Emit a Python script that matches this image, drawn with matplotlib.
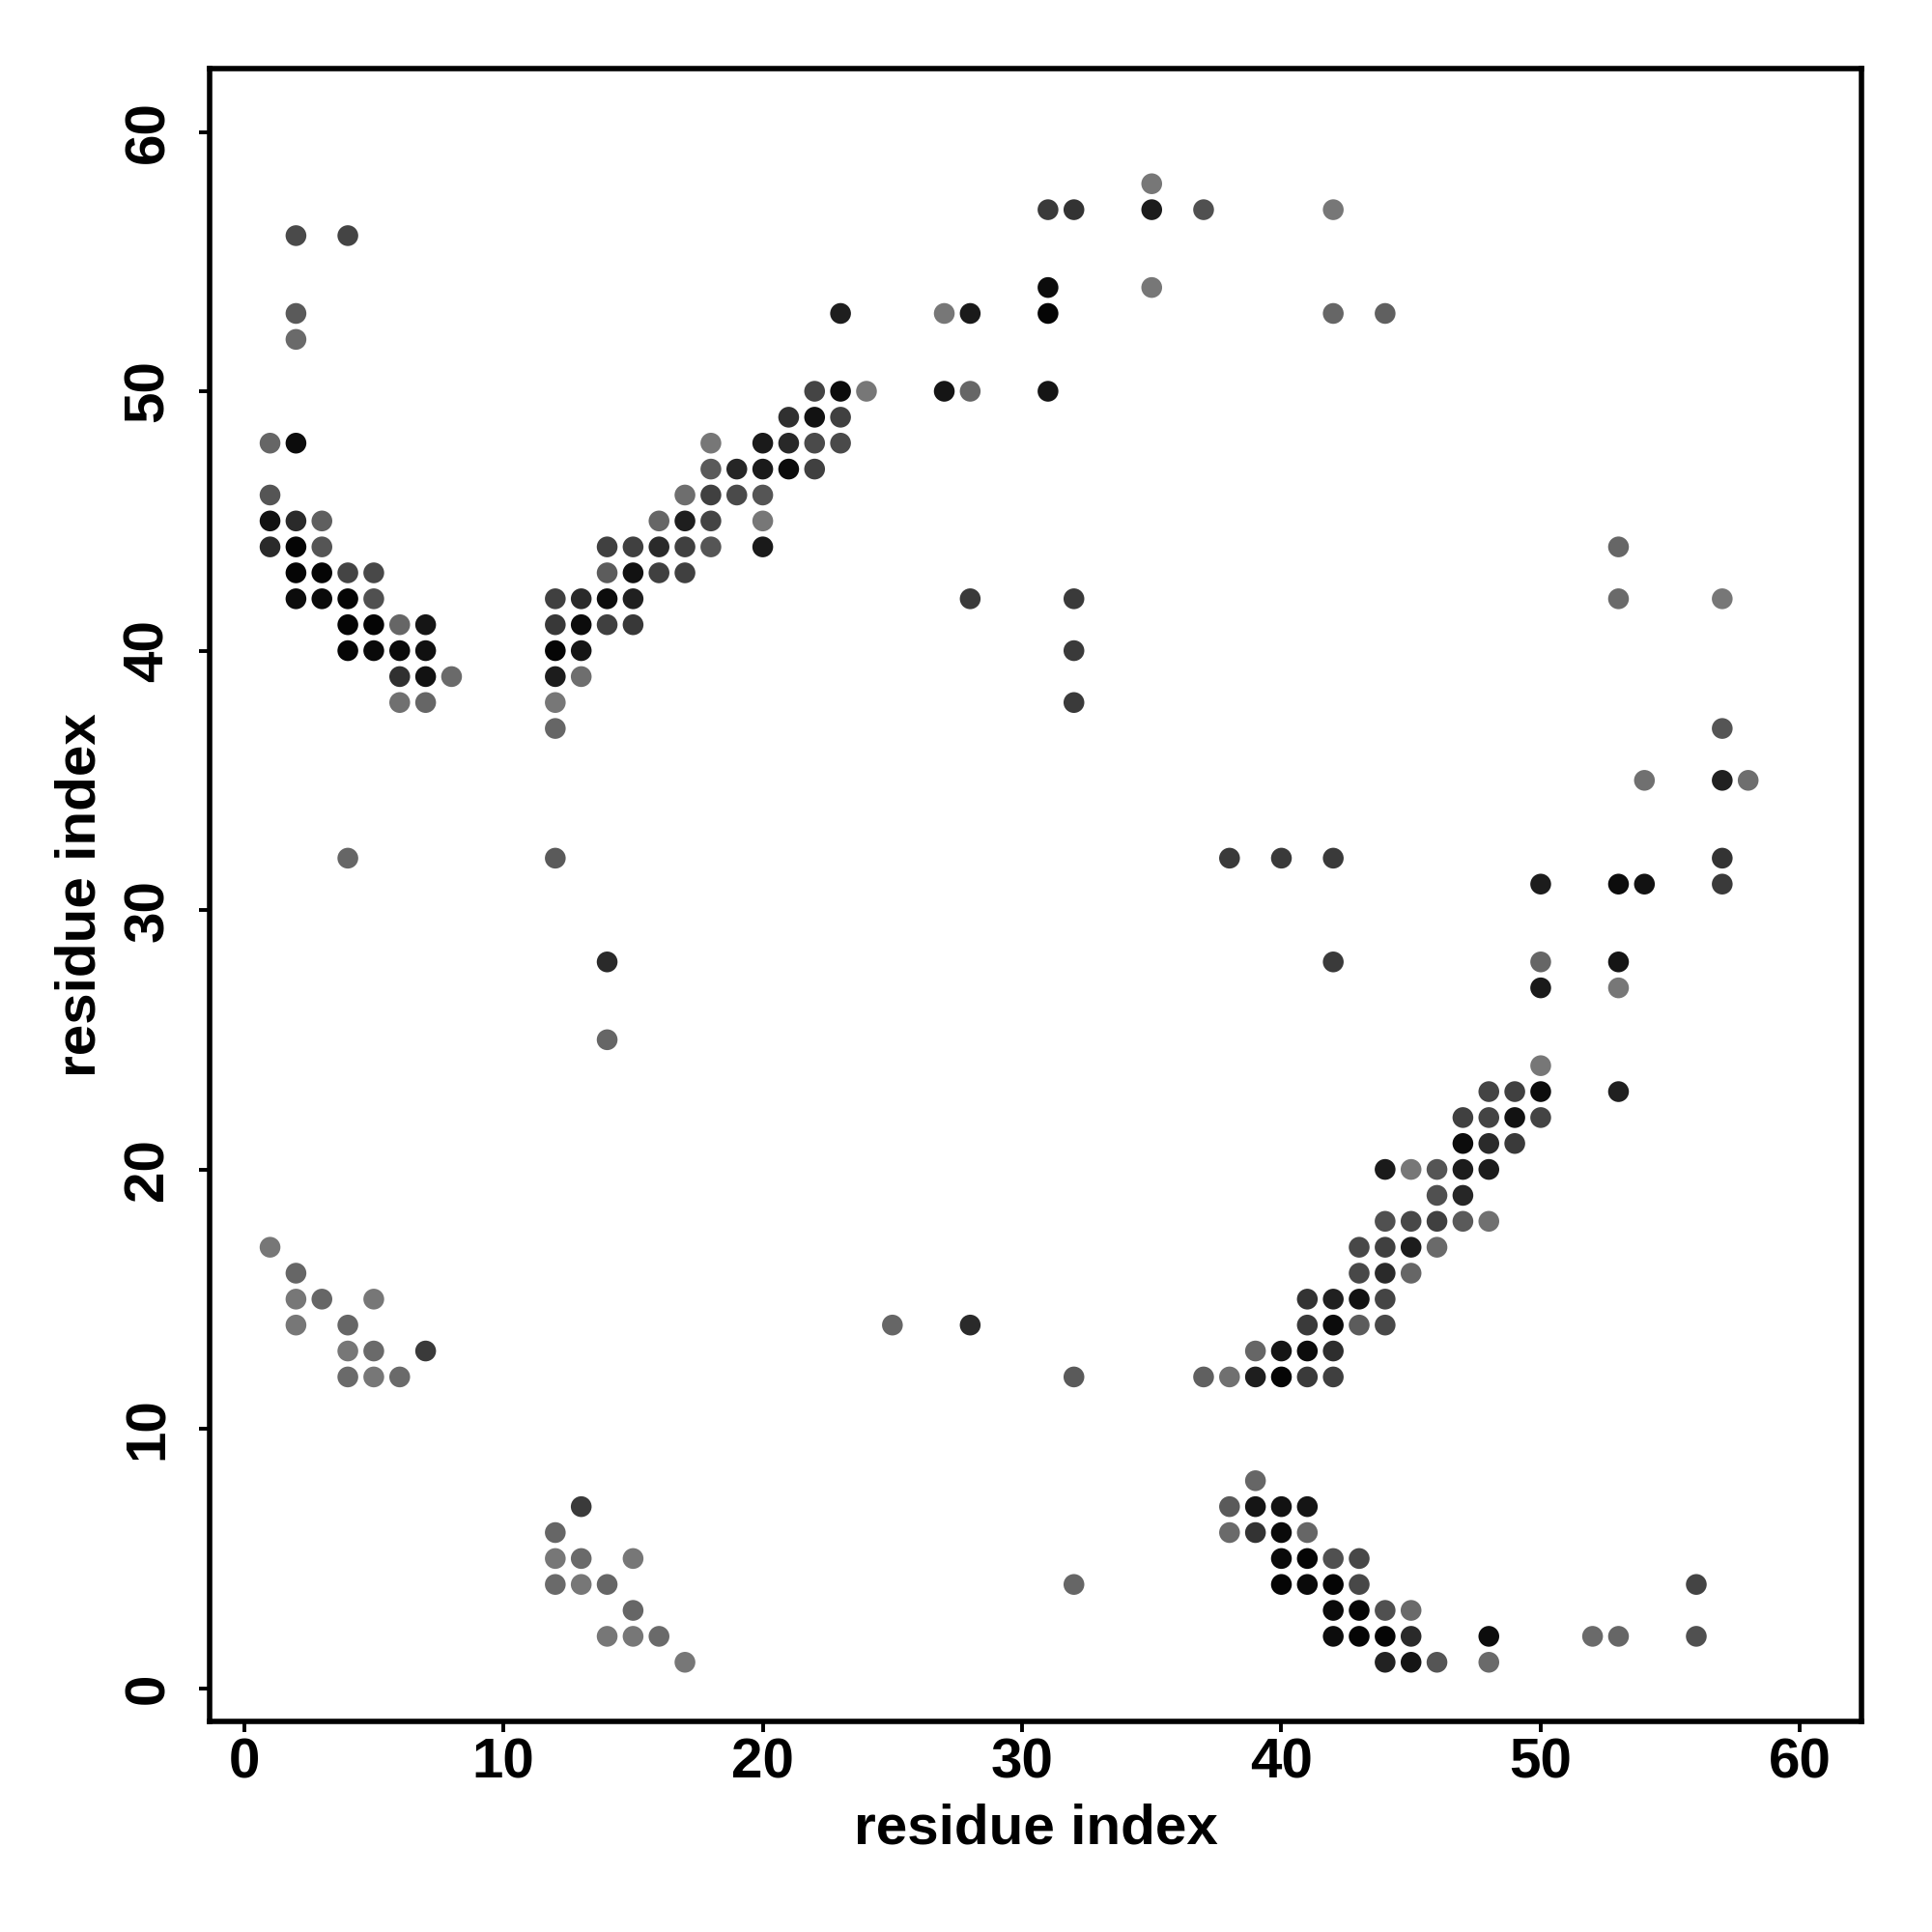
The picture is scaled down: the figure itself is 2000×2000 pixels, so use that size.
import matplotlib
matplotlib.use("Agg")
import matplotlib.pyplot as plt

# contact map: residue pairs (res_x, res_y) and grey level of each dot (0 = black)
res_x = [
    # upper left block
    2, 4, 2, 2, 1, 2, 1, 1, 2, 3, 1, 2, 3, 2, 3, 4, 5, 2, 3, 4, 5,
    4, 5, 6, 7, 4, 5, 6, 7, 6, 7, 8, 6, 7,
    # middle diagonal band
    22, 23, 24, 21, 22, 23, 18, 20, 21, 22, 23, 18, 19, 20, 21, 22,
    17, 18, 19, 20, 16, 17, 18, 20, 14, 15, 16, 17, 18, 20,
    14, 15, 16, 17, 12, 13, 14, 15, 12, 13, 14, 15, 12, 13, 12, 13, 12, 12,
    # top
    23, 35, 31, 32, 35, 37, 42, 31, 35, 27, 28, 31, 42, 44, 27, 28, 31,
    # scattered
    4, 12, 14, 14, 28, 32, 32, 32, 38, 40, 42, 42, 25, 28, 32, 32,
    # right side
    53, 53, 57, 57, 54, 57, 58, 57, 57, 50, 53, 54, 50, 53, 50, 53, 50,
    48, 49, 50, 53, 47, 48, 49, 50,
    # lower right band
    47, 48, 49, 44, 45, 46, 47, 48, 46, 47, 44, 45, 46, 47, 48,
    43, 44, 45, 46, 43, 44, 45, 41, 42, 43, 44, 41, 42, 43, 44,
    39, 40, 41, 42, 37, 38, 39, 40, 41, 42,
    # bottom right
    39, 38, 39, 40, 41, 38, 39, 40, 41, 40, 41, 42, 43, 40, 41, 42, 43, 56,
    42, 43, 44, 45, 42, 43, 44, 45, 48, 52, 53, 56, 44, 45, 46, 48,
    # bottom left
    1, 2, 2, 3, 5, 2, 4, 4, 5, 7, 4, 5, 6,
    13, 12, 12, 13, 15, 12, 13, 14, 15, 14, 15, 16, 17,
]
res_y = [
    56, 56, 53, 52, 48, 48, 46, 45, 45, 45, 44, 44, 44, 43, 43, 43, 43, 42, 42, 42, 42,
    41, 41, 41, 41, 40, 40, 40, 40, 39, 39, 39, 38, 38,
    50, 50, 50, 49, 49, 49, 48, 48, 48, 48, 48, 47, 47, 47, 47, 47,
    46, 46, 46, 46, 45, 45, 45, 45, 44, 44, 44, 44, 44, 44,
    43, 43, 43, 43, 42, 42, 42, 42, 41, 41, 41, 41, 40, 40, 39, 39, 38, 37,
    53, 58, 57, 57, 57, 57, 57, 54, 54, 53, 53, 53, 53, 53, 50, 50, 50,
    32, 32, 28, 25, 42, 42, 40, 38, 32, 32, 32, 28, 14, 14, 12, 4,
    44, 42, 42, 37, 35, 35, 35, 32, 31, 31, 31, 31, 28, 28, 27, 27, 24,
    23, 23, 23, 23, 22, 22, 22, 22,
    21, 21, 21, 20, 20, 20, 20, 20, 19, 19, 18, 18, 18, 18, 18,
    17, 17, 17, 17, 16, 16, 16, 15, 15, 15, 15, 14, 14, 14, 14,
    13, 13, 13, 13, 12, 12, 12, 12, 12, 12,
    8, 7, 7, 7, 7, 6, 6, 6, 6, 5, 5, 5, 5, 4, 4, 4, 4, 4,
    3, 3, 3, 3, 2, 2, 2, 2, 2, 2, 2, 2, 1, 1, 1, 1,
    17, 16, 15, 15, 15, 14, 14, 13, 13, 13, 12, 12, 12,
    7, 6, 5, 5, 5, 4, 4, 4, 3, 2, 2, 2, 1,
]
shade = [
    0x4a, 0x44, 0x5a, 0x6a, 0x66, 0x0c, 0x55, 0x11, 0x2a, 0x5f, 0x2a, 0x05, 0x55,
    0x05, 0x05, 0x44, 0x48, 0x0c, 0x0a, 0x05, 0x50,
    0x05, 0x05, 0x66, 0x15, 0x05, 0x0a, 0x0a, 0x10, 0x30, 0x12, 0x6a, 0x70, 0x66,
    0x44, 0x0c, 0x77, 0x30, 0x12, 0x40, 0x77, 0x1a, 0x28, 0x4a, 0x4a,
    0x5a, 0x26, 0x1a, 0x0c, 0x40,
    0x6e, 0x40, 0x4a, 0x55, 0x66, 0x1e, 0x44, 0x77, 0x40, 0x40, 0x2a, 0x40, 0x55, 0x1a,
    0x5c, 0x12, 0x40, 0x40, 0x40, 0x2a, 0x0c, 0x20, 0x38, 0x0c, 0x40, 0x38,
    0x05, 0x15, 0x1c, 0x6e, 0x77, 0x66,
    0x1e, 0x77, 0x3a, 0x33, 0x1c, 0x50, 0x77, 0x0c, 0x77, 0x77, 0x1a, 0x05, 0x66, 0x60,
    0x15, 0x66, 0x15,
    0x66, 0x5a, 0x2a, 0x66, 0x3a, 0x3a, 0x3a, 0x3a, 0x3a, 0x3a, 0x3a, 0x3a,
    0x66, 0x2a, 0x5a, 0x66,
    0x66, 0x6a, 0x77, 0x55, 0x70, 0x20, 0x6e, 0x33, 0x3a, 0x1c, 0x0c, 0x12,
    0x66, 0x15, 0x1a, 0x77, 0x77,
    0x44, 0x40, 0x0c, 0x20, 0x40, 0x44, 0x12, 0x44,
    0x0c, 0x2a, 0x3a, 0x1a, 0x77, 0x55, 0x1c, 0x1c, 0x50, 0x26,
    0x50, 0x48, 0x40, 0x5a, 0x70,
    0x48, 0x40, 0x1c, 0x6a, 0x48, 0x2a, 0x66, 0x33, 0x20, 0x12, 0x44,
    0x3a, 0x0c, 0x5c, 0x48,
    0x66, 0x15, 0x0c, 0x2e, 0x60, 0x70, 0x1e, 0x05, 0x3a, 0x3f,
    0x66, 0x5a, 0x15, 0x12, 0x15, 0x6a, 0x33, 0x0a, 0x66,
    0x0a, 0x05, 0x50, 0x48, 0x05, 0x0a, 0x05, 0x48, 0x44,
    0x0a, 0x05, 0x50, 0x6a, 0x0c, 0x05, 0x05, 0x2a, 0x0c, 0x6a, 0x66, 0x50,
    0x22, 0x15, 0x55, 0x6a,
    0x77, 0x66, 0x77, 0x66, 0x77, 0x77, 0x66, 0x77, 0x6a, 0x3a, 0x6a, 0x77, 0x6a,
    0x3a, 0x66, 0x77, 0x6a, 0x77, 0x6a, 0x77, 0x66, 0x66, 0x77, 0x77, 0x6a, 0x77,
]
ticks = [0, 10, 20, 30, 40, 50, 60]

plt.rcParams['font.family'] = ['Liberation Sans', 'DejaVu Sans']
plt.rcParams['font.weight'] = 'bold'

fig = plt.figure(figsize=(10, 10), dpi=200)
ax = fig.add_axes([0.1085, 0.109, 0.855, 0.8555])

colors = [(g / 255, g / 255, g / 255) for g in shade]
ax.scatter(res_x, res_y, s=60, c=colors, linewidths=0)

ax.set_xlim(-1.33, 62.37)
ax.set_ylim(-1.28, 62.44)
ax.set_xticks(ticks)
ax.set_yticks(ticks)
ax.set_yticklabels([str(t) for t in ticks], rotation=90, va='center')
ax.tick_params(axis='both', direction='out', length=4, width=1.4,
               labelsize=21, top=False, right=False)
ax.tick_params(axis='x', pad=2)
ax.tick_params(axis='y', pad=9)
for side in ax.spines.values():
    side.set_linewidth(2.0)

ax.set_xlabel("residue index", fontsize=21, fontweight='bold', labelpad=5)
ax.set_ylabel("residue index", fontsize=21, fontweight='bold', labelpad=6)

fig.savefig("out.png", dpi=200, facecolor='white')
